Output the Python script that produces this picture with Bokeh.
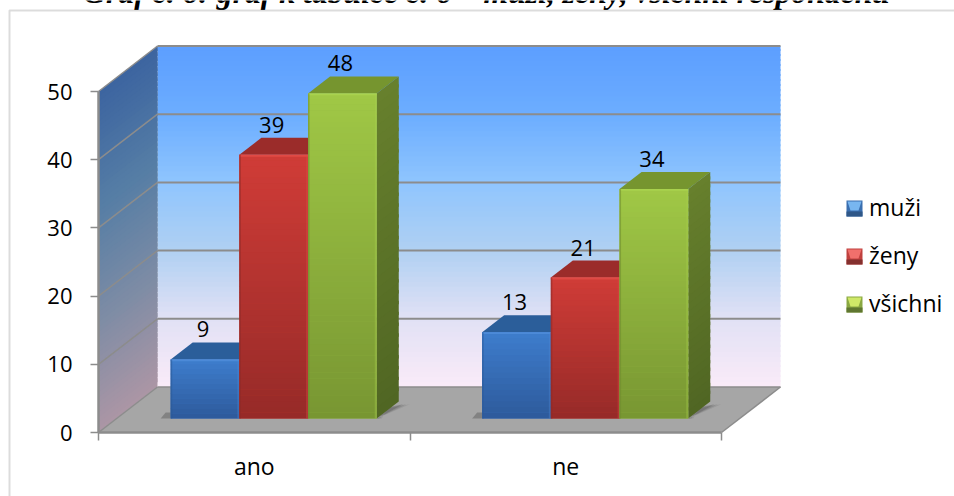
from bokeh.plotting import figure
from bokeh.embed import file_html
from bokeh.resources import INLINE
from bokeh.models import (Range1d, LinearAxis, FixedTicker, Legend, LegendItem, Label,
                          BoxAnnotation)
from bokeh.core.properties import value

# ---- data
categories = ["ano", "ne"]
series_names = ["muži", "ženy", "všichni"]
muzi = [9, 13]
zeny = [39, 21]
vsichni = [48, 34]
y_ticks = [0, 10, 20, 30, 40, 50]
title_text = "Graf č. 6: graf k tabulce č. 6 – muži, ženy, všichni respondenti"

# ---- layout constants (pixels)
W, H = 954, 496
F_L, F_B = 98, 432                        # pixel position of the data origin
PX_CAT, PX_VAL = 311.5, 6.82
DX, DY = 59 / PX_CAT, 45.5 / PX_VAL       # full depth of the 3-D box, in data units
D0, D1 = 0.257, 0.63                      # bars' front and back depth fraction
BAR_W, BAR_START, BAR_FOOT = 0.2205, 0.183, 0.34
FONT = "Open Sans"
GRID = "#8c8c8c"


def X(px):
    return (px - F_L) / PX_CAT


def Y(px):
    return (F_B - px) / PX_VAL


def lerp(stops, t):
    t = min(max(t, 0), 1) * (len(stops) - 1)
    i = min(int(t), len(stops) - 2)
    f = t - i
    c = [round(a + (b - a) * f) for a, b in zip(stops[i], stops[i + 1])]
    return "#%02x%02x%02x" % tuple(c)


p = figure(width=W, height=H, output_backend="svg", toolbar_location=None,
           x_range=Range1d(X(0), X(W)), y_range=Range1d(Y(H), Y(0)),
           x_axis_type=None, y_axis_type=None,
           min_border_left=0, min_border_right=0, min_border_top=0, min_border_bottom=0,
           outline_line_color=None, background_fill_color="white", border_fill_color="white")
p.grid.visible = False
top_v = y_ticks[-1]
n_cat = len(categories)

# ---- back wall
back_stops = [(92, 158, 255), (108, 173, 255), (143, 197, 254), (176, 208, 242), (225, 225, 245), (250, 235, 248)][::-1]
N = 68
xs0, xs1, ys0, ys1, cols = [], [], [], [], []
for i in range(N):
    a, b = top_v * i / N, top_v * (i + 1) / N
    xs0.append(DX); xs1.append(n_cat + DX)
    ys0.append(a + DY); ys1.append(min(b + 0.3, top_v) + DY)
    cols.append(lerp(back_stops, (i + .5) / N))
p.quad(left=xs0, right=xs1, bottom=ys0, top=ys1, fill_color=cols, line_color=None)

# ---- left wall
wall_stops = [(172, 150, 165), (125, 140, 165), (85, 125, 165), (60, 100, 160)]
xs, ys, cols = [], [], []
for i in range(N):
    a, b = top_v * i / N, min(top_v * (i + 1) / N + 0.6, top_v)
    xs.append([0, DX, DX, 0])
    ys.append([a, a + DY, b + DY, b])
    cols.append(lerp(wall_stops, (i + .5) / N))
p.patches(xs, ys, fill_color=cols, line_color=None)

# ---- floor
p.patch([0, n_cat, n_cat + DX, DX], [0, 0, DY, DY], fill_color="#a6a6a6", line_color=None)

# ---- grid lines
grid_vals = y_ticks[1:]
p.multi_line([[0, DX] for _ in grid_vals], [[v, v + DY] for v in grid_vals], line_color=GRID, line_width=1.5)
p.multi_line([[DX, n_cat + DX] for _ in grid_vals], [[v + DY, v + DY] for v in grid_vals], line_color=GRID, line_width=2)
p.multi_line([[0, DX], [n_cat, n_cat + DX], [DX, n_cat + DX]], [[0, DY], [0, DY], [DY, DY]],
             line_color=GRID, line_width=1.5)
p.line([0, n_cat], [0, 0], line_color=GRID, line_width=2.5)

# ---- bars
front_stops = [
    ((45, 90, 155), (62, 125, 205)),
    ((150, 42, 40), (208, 60, 55)),
    ((120, 150, 50), (160, 200, 70)),
]
side_stops = [
    ((38, 75, 125), (45, 90, 150)),
    ((110, 30, 30), (140, 35, 35)),
    ((80, 102, 35), (103, 128, 45)),
]
top_cols = ["#2b5e9a", "#9b2c2a", "#76952f"]
base_cols = ["#3a74bf", "#c0392f", "#94b944"]
edge_light = ["#4c8ad8", "#e04a45", "#a9d24e"]
edge_dark = ["#2a5a98", "#8c2a28", "#6d8a2d"]
series = [muzi, zeny, vsichni]

# floor shadows of the groups
for c in range(n_cat):
    x0 = c + BAR_START + D0 * DX
    x1 = x0 + 3 * BAR_W
    for grow, alpha in ((1.0, 0.12), (0.7, 0.18), (0.4, 0.25)):
        bump = grow * 10 / PX_CAT
        p.patch([x0 - bump, x1, x1 + (D1 - D0) * DX + bump * 1.1, x1 + (D1 - D0) * DX + bump * 1.1, x1 + bump * 1.1, x1 + bump * .5],
                [Y(418), Y(418), Y(418) + (D1 - D0) * DY - .4, Y(418) + (D1 - D0) * DY - .4, Y(408), Y(418)],
                fill_color="#404040", fill_alpha=alpha, line_color=None)
    p.patch([x0 - 10 / PX_CAT, x0, x0, x0 - 5 / PX_CAT],
            [Y(418), Y(418), Y(412), Y(412)], fill_color="#404040", fill_alpha=.35, line_color=None)

label_x, label_y, label_t = [], [], []
for s, vals in enumerate(series):
    for c, v in enumerate(vals):
        x0 = c + BAR_START + s * BAR_W
        x1 = x0 + BAR_W
        fx0, fx1 = x0 + D0 * DX, x1 + D0 * DX
        bx0, bx1 = x0 + D1 * DX, x1 + D1 * DX
        ftop, fbot = v + D0 * DY, BAR_FOOT + D0 * DY
        btop, bbot = v + D1 * DY, BAR_FOOT + D1 * DY
        # top face
        p.patch([fx0, fx1, bx1, bx0], [ftop, ftop, btop, btop], fill_color=top_cols[s], line_color=None)
        # side face gradient
        n = 30
        xs, ys, cols = [], [], []
        for i in range(n):
            a = v * i / n
            b = min(v * (i + 1) / n + 0.5, v)
            xs.append([fx1, bx1, bx1, fx1])
            ys.append([fbot + a * (ftop - fbot) / v, bbot + a * (btop - bbot) / v,
                       bbot + b * (btop - bbot) / v, fbot + b * (ftop - fbot) / v])
            cols.append(lerp(side_stops[s], (i + .5) / n))
        p.patches(xs, ys, fill_color=cols, line_color=None)
        # front face: solid base + gradient strips
        p.quad(left=[fx0], right=[fx1], bottom=[fbot], top=[ftop], fill_color=base_cols[s], line_color=None)
        strips = max(12, int(v * 1.2))
        bots = [fbot + (ftop - fbot) * i / strips for i in range(strips)]
        tops = [fbot + (ftop - fbot) * (i + 1) / strips + 0.05 for i in range(strips)]
        tops[-1] = ftop
        p.quad(left=fx0, right=fx1, bottom=bots, top=tops,
               fill_color=[lerp(front_stops[s], (i + .5) / strips) for i in range(strips)], line_color=None)
        # bevel edges
        p.quad(left=[fx0], right=[fx1], bottom=[ftop - 1.8 / PX_VAL], top=[ftop], fill_color=edge_light[s], line_color=None)
        p.quad(left=[fx1 - 2 / PX_CAT], right=[fx1], bottom=[fbot], top=[ftop], fill_color=edge_light[s], fill_alpha=.35, line_color=None)
        p.quad(left=[fx0], right=[fx0 + 1.5 / PX_CAT], bottom=[fbot], top=[ftop], fill_color=edge_dark[s], fill_alpha=.55, line_color=None)
        label_x.append((fx0 + fx1) / 2 - 2 / PX_CAT)
        label_y.append(ftop)
        label_t.append(str(v))

p.text(x=label_x, y=label_y, text=label_t, text_font=value(FONT), text_font_size="22px",
       text_align="center", text_baseline="alphabetic", y_offset=-30, text_color="#000000")

# ---- axes
ax_y = LinearAxis(ticker=FixedTicker(ticks=y_ticks), bounds=(0, top_v), fixed_location=0)
ax_y.axis_line_color = GRID
ax_y.axis_line_width = 2.5
ax_y.major_tick_line_color = GRID
ax_y.major_tick_line_width = 1.5
ax_y.major_tick_in = 0
ax_y.major_tick_out = 8
ax_y.minor_tick_out = 0
ax_y.minor_tick_in = 0
ax_y.major_label_standoff = 18
ax_y.major_label_text_font = FONT
ax_y.major_label_text_font_size = "22px"
ax_y.major_label_text_color = "#000000"
p.add_layout(ax_y, "left")

ax_x = LinearAxis(ticker=FixedTicker(ticks=[c + .5 for c in range(n_cat)], minor_ticks=list(range(n_cat + 1))),
                  bounds=(0, n_cat), fixed_location=0,
                  major_label_overrides={c + .5: categories[c] for c in range(n_cat)})
ax_x.axis_line_color = None
ax_x.major_tick_out = 0
ax_x.major_tick_in = 0
ax_x.major_tick_line_color = None
ax_x.minor_tick_out = 8
ax_x.minor_tick_in = 0
ax_x.minor_tick_line_color = GRID
ax_x.minor_tick_line_width = 1.5
ax_x.major_label_standoff = 9
ax_x.major_label_text_font = FONT
ax_x.major_label_text_font_size = "23px"
ax_x.major_label_text_color = "#000000"
p.add_layout(ax_x, "below")

# ---- legend keys (bevelled squares)
key_tops = [200, 248, 296]
key_mid = ["#3a6fb0", "#c0413e", "#8aa842"]
key_dark = ["#2f5788", "#84302e", "#5f7630"]
key_light = ["#78b6f0", "#f0706c", "#cfe868"]
key_renderers = []
for ky, km, kd, kl in zip(key_tops, key_mid, key_dark, key_light):
    p.quad(left=[X(846)], right=[X(862)], top=[Y(ky)], bottom=[Y(ky + 16)], fill_color=km, line_color=None)
    p.quad(left=[X(846)], right=[X(862)], top=[Y(ky + 11)], bottom=[Y(ky + 16)], fill_color=kd, line_color=None)
    p.patch([X(847), X(861), X(858), X(850)], [Y(ky + 1), Y(ky + 1), Y(ky + 10), Y(ky + 10)], fill_color=kl, line_color=None)
    # transparent twin: the renderer that the legend entry refers to
    key_renderers.append(p.quad(left=[X(846)], right=[X(862)], top=[Y(ky)], bottom=[Y(ky + 16)],
                                fill_color=km, fill_alpha=0, line_color=None))

legend = Legend(items=[LegendItem(label=n, renderers=[r]) for n, r in zip(series_names, key_renderers)],
                location=(846, H - 319), orientation="vertical",
                glyph_width=16, glyph_height=16, label_height=20, label_width=60, label_standoff=7,
                spacing=16, padding=0, margin=0, background_fill_alpha=0, border_line_color=None,
                label_text_font=FONT, label_text_font_size="23px", label_text_color="#000000",
                inactive_fill_alpha=0)
p.add_layout(legend, "center")

# ---- outer frame and clipped title
p.add_layout(Label(x=X(486), y=Y(-8), text=title_text, text_align="center", text_baseline="alphabetic",
                   text_font="Liberation Serif", text_font_style="bold italic", text_font_size="31.7px",
                   text_color="#000000"))
p.add_layout(BoxAnnotation(left=X(9), right=X(W + 20), top=Y(10), bottom=Y(H + 20),
                           fill_alpha=0, line_color=GRID, line_width=2))

open("out.html", "w").write(file_html(p, INLINE))
